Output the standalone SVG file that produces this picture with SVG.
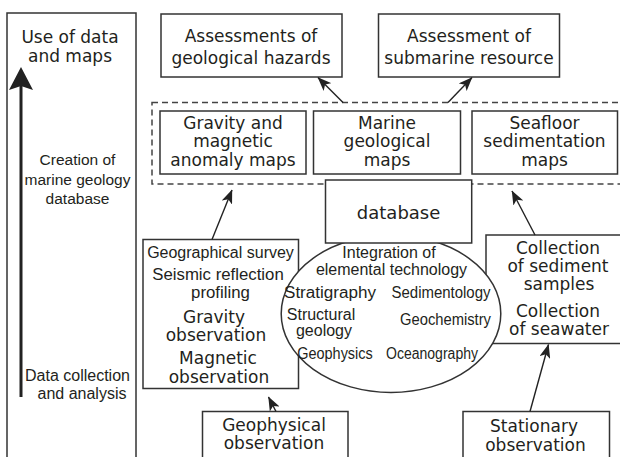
<svg xmlns="http://www.w3.org/2000/svg" width="620" height="457" viewBox="0 0 620 457">
<defs>
<style>
.box{fill:#fff;stroke:#333;stroke-width:1.5}
.t{font-family:"DejaVu Sans","Liberation Sans",Arial,sans-serif;font-size:17px;fill:#231f20;text-anchor:middle}
.s{font-family:"Liberation Sans",Arial,sans-serif;font-size:16px}
.m{font-family:"Liberation Sans",Arial,sans-serif;font-size:15.5px}
.dash{fill:none;stroke:#444;stroke-width:1.5;stroke-dasharray:6 4}
.conn{stroke:#222;stroke-width:1.4;fill:none;marker-end:url(#ah)}
</style>
<marker id="ah" markerUnits="userSpaceOnUse" viewBox="0 0 14 11" markerWidth="14" markerHeight="11" refX="13.5" refY="5.5" orient="auto">
<path d="M0,0 L14,5.5 L0,11 L3.5,5.5 z" fill="#222"/>
</marker>
</defs>
<rect width="620" height="457" fill="#fff"/>

<g id="axis">
<rect class="box" x="7" y="13" width="129" height="460"/>
<line x1="21" y1="397" x2="21" y2="84" stroke="#222" stroke-width="3"/>
<polygon points="21,67 33,90 21,86 9,90" fill="#222"/>
<text class="t" x="70" y="42.5">Use of data</text>
<text class="t" x="70" y="61.5">and maps</text>
<text class="t m" x="77.5" y="165">Creation of</text>
<text class="t m" x="77.5" y="184.5">marine geology</text>
<text class="t m" x="77.5" y="204">database</text>
<text class="t s" x="77.5" y="381">Data collection</text>
<text class="t s" x="82" y="399">and analysis</text>
</g>

<g id="hazards">
<rect class="box" x="161" y="14" width="181" height="63"/>
<text class="t" x="251" y="41.5">Assessments of</text>
<text class="t" x="251" y="63.5">geological hazards</text>
</g>

<g id="resource">
<rect class="box" x="378.5" y="14" width="181" height="63"/>
<text class="t" x="469" y="41.5">Assessment of</text>
<text class="t" x="469" y="63.5">submarine resource</text>
</g>

<g id="maps-group">
<rect class="dash" x="152" y="102.5" width="475" height="81.5"/>
</g>

<g id="gravity-maps">
<rect class="box" x="160" y="111" width="146" height="63"/>
<text class="t" x="233" y="128.5">Gravity and</text>
<text class="t" x="233" y="147">magnetic</text>
<text class="t" x="233" y="166">anomaly maps</text>
</g>

<g id="marine-maps">
<rect class="box" x="313.5" y="111" width="147" height="63"/>
<text class="t" x="387" y="128.5">Marine</text>
<text class="t" x="387" y="147">geological</text>
<text class="t" x="387" y="166">maps</text>
</g>

<g id="seafloor-maps">
<rect class="box" x="472" y="111" width="145.5" height="63"/>
<text class="t" x="544.5" y="128.5">Seafloor</text>
<text class="t" x="544.5" y="147">sedimentation</text>
<text class="t" x="544.5" y="166">maps</text>
</g>

<g id="geo-obs">
<rect class="box" x="143" y="239.5" width="155.5" height="149"/>
<text class="t s" x="220.5" y="257.5">Geographical survey</text>
<text class="t s" x="218" y="280" style="font-size:16.8px">Seismic reflection</text>
<text class="t s" x="220.5" y="298" style="font-size:16.8px">profiling</text>
<text class="t" x="214" y="322.5">Gravity</text>
<text class="t" x="216" y="341">observation</text>
<text class="t" x="218" y="364">Magnetic</text>
<text class="t" x="219" y="382.5">observation</text>
</g>

<g id="collection">
<rect class="box" x="486" y="235" width="145" height="108.5"/>
<text class="t" x="558" y="253.5">Collection</text>
<text class="t" x="558" y="271.7">of sediment</text>
<text class="t" x="559" y="290">samples</text>
<text class="t" x="558" y="316.7">Collection</text>
<text class="t" x="559" y="335">of seawater</text>
</g>

<g id="integration">
<ellipse cx="391" cy="313.7" rx="109.8" ry="78.7" fill="#fff" stroke="#333" stroke-width="1.5"/>
<text class="t s" x="389" y="257.5">Integration of</text>
<text class="t s" x="391.5" y="274.5">elemental technology</text>
<text class="t s" x="330" y="297.5" textLength="92" lengthAdjust="spacingAndGlyphs">Stratigraphy</text>
<text class="t s" x="441" y="297.5" textLength="99" lengthAdjust="spacingAndGlyphs">Sedimentology</text>
<text class="t s" x="321" y="319.5">Structural</text>
<text class="t s" x="324" y="335.5">geology</text>
<text class="t s" x="445.5" y="325" textLength="91" lengthAdjust="spacingAndGlyphs">Geochemistry</text>
<text class="t s" x="335" y="358.5" textLength="75.5" lengthAdjust="spacingAndGlyphs">Geophysics</text>
<text class="t s" x="432" y="358.5" textLength="92" lengthAdjust="spacingAndGlyphs">Oceanography</text>
</g>

<g id="database">
<rect class="box" x="325.5" y="180" width="146.2" height="63"/>
<text class="t" x="398.6" y="218.5" style="font-size:18px">database</text>
</g>

<g id="geophysical">
<rect class="box" x="202.5" y="411.5" width="145.5" height="60"/>
<text class="t" x="274" y="430.5">Geophysical</text>
<text class="t" x="274" y="449">observation</text>
</g>

<g id="stationary">
<rect class="box" x="463" y="411.5" width="146.5" height="60"/>
<text class="t" x="534" y="432">Stationary</text>
<text class="t" x="535.5" y="450.5">observation</text>
</g>

<g id="connectors">
<line class="conn" x1="276" y1="411.5" x2="268.5" y2="397"/>
<line class="conn" x1="212" y1="239.5" x2="232" y2="190"/>
<line class="conn" x1="343" y1="102.5" x2="318" y2="77.5"/>
<line class="conn" x1="448" y1="102.5" x2="472" y2="77.5"/>
<line class="conn" x1="535" y1="235" x2="512" y2="191"/>
<line class="conn" x1="530" y1="411.5" x2="548.5" y2="344.5"/>
</g>
</svg>
